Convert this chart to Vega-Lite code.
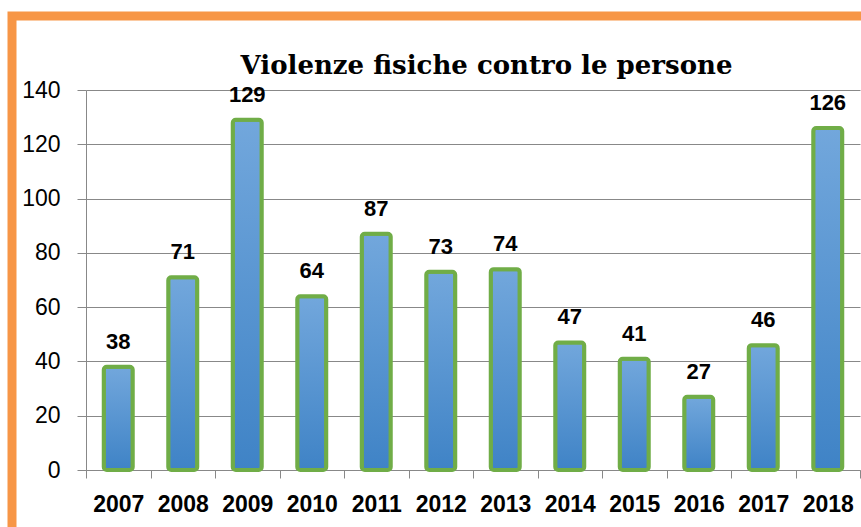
{
  "$schema": "https://vega.github.io/schema/vega-lite/v6.json",
  "width": 849,
  "height": 511,
  "autosize": {"type": "none"},
  "padding": {"left": 12, "top": 16, "right": 0, "bottom": 0},
  "background": "white",
  "config": {
    "view": {"fill": "white", "stroke": "#f79646", "strokeWidth": 9, "strokeDash": [849, 1360, 511]},
    "font": "Liberation Sans"
  },
  "title": {
    "text": "Violenze fisiche contro le persone",
    "font": "DejaVu Serif",
    "fontSize": 26,
    "fontWeight": "bold",
    "color": "black",
    "anchor": "middle",
    "baseline": "alphabetic",
    "offset": -84,
    "dx": 50
  },
  "data": {
    "values": [
      {"anno": "2007", "valore": 38},
      {"anno": "2008", "valore": 71},
      {"anno": "2009", "valore": 129},
      {"anno": "2010", "valore": 64},
      {"anno": "2011", "valore": 87},
      {"anno": "2012", "valore": 73},
      {"anno": "2013", "valore": 74},
      {"anno": "2014", "valore": 47},
      {"anno": "2015", "valore": 41},
      {"anno": "2016", "valore": 27},
      {"anno": "2017", "valore": 46},
      {"anno": "2018", "valore": 126}
    ]
  },
  "encoding": {
    "x": {
      "field": "anno",
      "type": "ordinal",
      "scale": {"range": [74, 848], "paddingInner": 0, "paddingOuter": 0},
      "axis": {
        "title": null,
        "orient": "bottom",
        "offset": -57,
        "labelAngle": 0,
        "labelFont": "Liberation Sans",
        "labelFontSize": 23,
        "labelFontWeight": "bold",
        "labelColor": "black",
        "labelPadding": 15,
        "tickBand": "extent",
        "tickSize": 8,
        "tickColor": "#888888",
        "domainColor": "#888888",
        "grid": false
      }
    },
    "y": {
      "field": "valore",
      "type": "quantitative",
      "scale": {"domain": [0, 140], "range": [454, 74], "nice": false},
      "axis": {
        "title": null,
        "offset": -74,
        "values": [0, 20, 40, 60, 80, 100, 120, 140],
        "labelFont": "Liberation Sans",
        "labelFontSize": 23,
        "labelColor": "black",
        "labelPadding": 17,
        "tickSize": 9,
        "tickColor": "#888888",
        "domainColor": "#888888",
        "grid": true,
        "gridColor": "#888888",
        "gridOpacity": 1
      }
    }
  },
  "layer": [
    {
      "mark": {
        "type": "bar",
        "size": 29,
        "cornerRadius": 3,
        "stroke": "#70ad47",
        "strokeWidth": 4,
        "fill": {
          "gradient": "linear",
          "x1": 0, "y1": 0, "x2": 0, "y2": 1,
          "stops": [
            {"offset": 0, "color": "#72a7dc"},
            {"offset": 1, "color": "#3f83c6"}
          ]
        }
      }
    },
    {
      "mark": {
        "type": "text",
        "dy": -18,
        "baseline": "alphabetic",
        "font": "Liberation Sans",
        "fontSize": 22,
        "fontWeight": "bold",
        "color": "black"
      },
      "encoding": {"text": {"field": "valore", "type": "quantitative"}}
    }
  ]
}
